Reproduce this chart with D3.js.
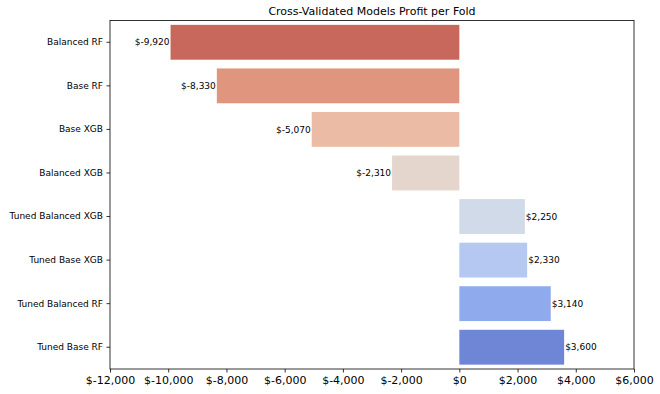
<!DOCTYPE html>
<html><head><meta charset="utf-8">
<script src="https://cdn.jsdelivr.net/npm/d3@7"></script>
<style>body{margin:0;background:#fff}svg{display:block}text{font-family:"DejaVu Sans",sans-serif;fill:#000}</style>
</head><body><svg id="c" width="660" height="394"></svg>
<script>
const models = ["Balanced RF","Base RF","Base XGB","Balanced XGB","Tuned Balanced XGB","Tuned Base XGB","Tuned Balanced RF","Tuned Base RF"];
const profits = [-9920,-8330,-5070,-2310,2250,2330,3140,3600];
const colors = ["#c8675b","#e0967e","#ecbba5","#e4d5cd","#d1dae8","#b4c8f2","#90abed","#6e86d5"];
const xTicks = [-12000,-10000,-8000,-6000,-4000,-2000,0,2000,4000,6000];
const title = "Cross-Validated Models Profit per Fold";

const svg = d3.select("#c");
const m = {l:110, r:634, t:20.5, b:369};
const x = d3.scaleLinear().domain([-12000,6000]).range([m.l, m.r]);
const y = d3.scaleBand().domain(models).range([m.t, m.b]).paddingInner(0.2).paddingOuter(0.1);
const fmt = v => "$" + d3.format(",")(v).replace("\u2212", "-");

svg.append("g").selectAll("rect").data(models).join("rect")
  .attr("x", (d,i) => x(Math.min(0, profits[i])))
  .attr("width", (d,i) => Math.abs(x(profits[i]) - x(0)))
  .attr("y", d => y(d)).attr("height", y.bandwidth())
  .attr("fill", (d,i) => colors[i]);

svg.append("g").selectAll("text").data(models).join("text")
  .attr("x", (d,i) => x(profits[i]) + (profits[i] < 0 ? -1 : 1))
  .attr("y", d => y(d) + y.bandwidth()/2)
  .attr("dy", "0.35em")
  .attr("text-anchor", (d,i) => profits[i] < 0 ? "end" : "start")
  .style("font-size", "9px")
  .text((d,i) => fmt(profits[i]));

const xa = svg.append("g").attr("transform", `translate(0,${m.b})`)
  .call(d3.axisBottom(x).tickValues(xTicks).tickFormat(fmt).tickSize(3.5).tickPadding(3.5));
xa.selectAll("text").style("font-size", "11px");
const ya = svg.append("g").attr("transform", `translate(${m.l},0)`)
  .call(d3.axisLeft(y).tickSize(3.5).tickPadding(3.5));
ya.selectAll("text").style("font-size", "9px");
[xa, ya].forEach(a => { a.select(".domain").remove(); a.selectAll("line").attr("stroke","#000").attr("stroke-width",0.8); });

svg.append("rect").attr("x", m.l).attr("y", m.t).attr("width", m.r - m.l).attr("height", m.b - m.t)
  .attr("fill", "none").attr("stroke", "#000").attr("stroke-width", 0.8);

svg.append("text").attr("x", (m.l + m.r)/2).attr("y", 15).attr("text-anchor", "middle")
  .style("font-size", "11px").text(title);
</script></body></html>
